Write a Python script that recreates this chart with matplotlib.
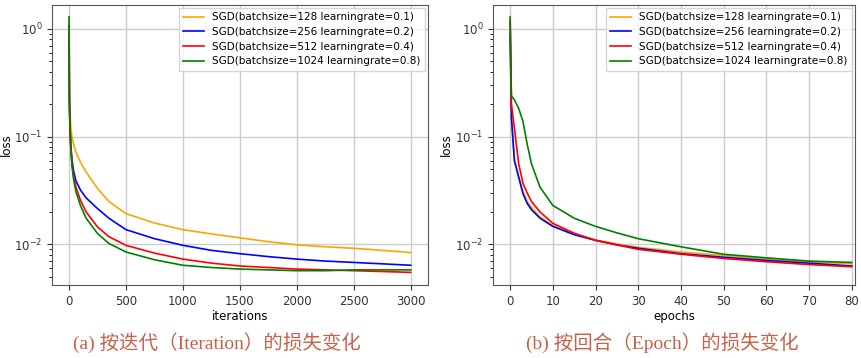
import matplotlib
matplotlib.use("Agg")
import matplotlib.pyplot as plt

# ---- data ----
iters = [0, 3, 8, 15, 25, 40, 60, 100, 150, 250, 350, 500, 750, 1000,
         1250, 1500, 1750, 2000, 2250, 2500, 2750, 3000]
it_bs128 = [1.2, 0.3, 0.17, 0.125, 0.1, 0.085, 0.072, 0.058, 0.047, 0.033, 0.025,
            0.0193, 0.0158, 0.0137, 0.0125, 0.0115, 0.0106, 0.0099, 0.0095, 0.0092,
            0.0088, 0.0084]
it_bs256 = [0.9, 0.2, 0.12, 0.085, 0.062, 0.048, 0.039, 0.032, 0.027, 0.0215, 0.0175,
            0.0137, 0.0113, 0.0098, 0.0088, 0.0082, 0.0077, 0.0073, 0.0070, 0.0068,
            0.0066, 0.0064]
it_bs512 = [1.1, 0.22, 0.12, 0.08, 0.057, 0.043, 0.034, 0.0257, 0.02, 0.0145, 0.0118,
            0.0098, 0.0083, 0.0073, 0.0067, 0.0063, 0.0061, 0.0059, 0.0058, 0.0057,
            0.0056, 0.0055]
it_bs1024 = [1.3, 0.25, 0.13, 0.08, 0.054, 0.04, 0.031, 0.023, 0.0175, 0.0126, 0.0102,
             0.0085, 0.0072, 0.0064, 0.0061, 0.0059, 0.0058, 0.0057, 0.0057, 0.0058,
             0.0058, 0.0058]

epochs = [0, 0.3, 1, 2, 3, 4, 5, 7, 10, 15, 20, 25, 30, 40, 50, 60, 70, 80]
ep_bs128 = [1.2, 0.15, 0.06, 0.043, 0.031, 0.025, 0.022, 0.018, 0.015, 0.0125, 0.011,
            0.0101, 0.0094, 0.0085, 0.0079, 0.0073, 0.0069, 0.0066]
ep_bs256 = [0.9, 0.15, 0.06, 0.042, 0.0296, 0.024, 0.021, 0.0175, 0.0147, 0.0123,
            0.0109, 0.0099, 0.0092, 0.0082, 0.0076, 0.0071, 0.0067, 0.0063]
ep_bs512 = [1.2, 0.2, 0.12, 0.056, 0.037, 0.03, 0.025, 0.02, 0.0157, 0.0127, 0.0109,
            0.0099, 0.009, 0.0081, 0.0074, 0.0069, 0.0065, 0.0062]
ep_bs1024 = [1.3, 0.24, 0.22, 0.183, 0.139, 0.085, 0.056, 0.034, 0.023, 0.0175, 0.0147,
             0.0128, 0.0113, 0.0095, 0.0081, 0.0075, 0.007, 0.0068]

labels = ["SGD(batchsize=128 learningrate=0.1)",
          "SGD(batchsize=256 learningrate=0.2)",
          "SGD(batchsize=512 learningrate=0.4)",
          "SGD(batchsize=1024 learningrate=0.8)"]
colors = ["orange", "blue", "red", "green"]
captions = ["(a) 按迭代（Iteration）的损失变化", "(b) 按回合（Epoch）的损失变化"]

fig = plt.figure(figsize=(8.62, 3.58), dpi=100)
ax1 = fig.add_axes([0.0603, 0.204, 0.436, 0.782])
ax2 = fig.add_axes([0.572, 0.204, 0.420, 0.782])

panels = [
    (ax1, iters, [it_bs128, it_bs256, it_bs512, it_bs1024], "iterations", (-150, 3150), -0.105),
    (ax2, epochs, [ep_bs128, ep_bs256, ep_bs512, ep_bs1024], "epochs", (-4, 80.8), -0.11),
]
for ax, x, ys, xl, xlim, ylx in panels:
    for y, c, lab in zip(ys, colors, labels):
        ax.plot(x, y, color=c, lw=1.2, label=lab)
    ax.set_yscale("log")
    ax.set_ylim(0.0042, 1.67)
    ax.set_xlim(*xlim)
    ax.grid(True, color="#cccccc", lw=1.0)
    ax.set_axisbelow(True)
    for s in ax.spines.values():
        s.set_color("#555555")
    ax.tick_params(labelsize=8.5, colors="#333333")
    ax.set_xlabel(xl, fontsize=8.5, labelpad=2)
    ax.set_ylabel("loss", fontsize=8.5)
    ax.yaxis.set_label_coords(ylx, 0.5)
    leg = ax.legend(loc="upper right", fontsize=7.5, handlelength=2.0,
                    borderaxespad=0.3, labelspacing=0.45, fancybox=False)
    leg.get_frame().set_edgecolor("#cccccc")

fig.text(0.252, 0.042, captions[0], color="#c8614a", fontsize=14,
         family=["Liberation Serif", "Noto Sans CJK SC"], ha="center", va="center")
fig.text(0.768, 0.042, captions[1], color="#c8614a", fontsize=14,
         family=["Liberation Serif", "Noto Sans CJK SC"], ha="center", va="center")

fig.savefig("out.png", dpi=100)
